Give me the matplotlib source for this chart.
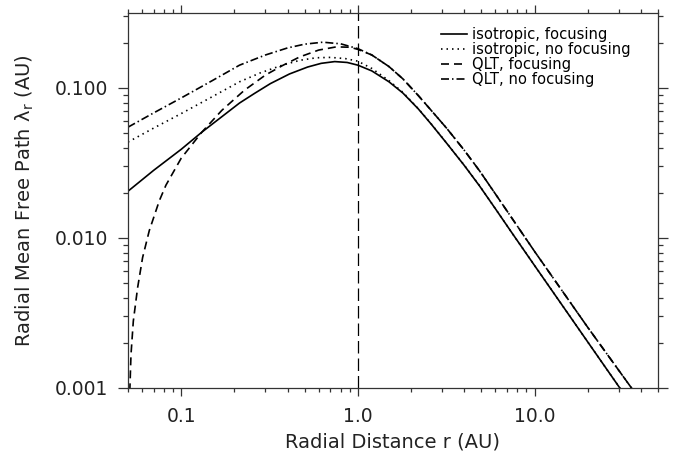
import matplotlib
matplotlib.use("Agg")
import matplotlib.pyplot as plt
from matplotlib.ticker import FixedLocator, FixedFormatter, LogLocator, NullFormatter

plt.rcParams['font.family'] = ['DejaVu Sans']

# isotropic, focusing
r_iso_f = [0.05, 0.07, 0.1, 0.131, 0.17, 0.214, 0.26, 0.32, 0.41, 0.52, 0.62, 0.74, 0.87,
           1.0, 1.2, 1.5, 1.8, 2.2, 2.6, 3.2, 4.0, 4.89, 6.0, 7.5, 10.0, 20.0, 30.4, 40.0]
lam_iso_f = [0.0205, 0.0283, 0.039, 0.0508, 0.0644, 0.0794, 0.092, 0.107, 0.124, 0.138, 0.146, 0.150, 0.148,
             0.142, 0.130, 0.110, 0.0925, 0.0725, 0.0575, 0.0425, 0.0305, 0.0222, 0.0157, 0.0107, 0.00656,
             0.00203, 0.00100, 0.00062]

# isotropic, no focusing
r_iso_nf = [0.05, 0.07, 0.1, 0.15, 0.214, 0.28, 0.374, 0.47, 0.58, 0.7, 0.85, 1.0, 1.2, 1.5,
            1.8, 2.2, 2.6, 3.2, 4.0, 4.89, 6.0, 7.5, 10.0, 20.0, 30.4, 40.0]
lam_iso_nf = [0.0436, 0.0541, 0.0675, 0.0875, 0.110, 0.126, 0.142, 0.153, 0.159, 0.160, 0.157, 0.151, 0.135, 0.112,
              0.0935, 0.0728, 0.0577, 0.0426, 0.0306, 0.0223, 0.0157, 0.0107, 0.00657, 0.00203, 0.00100, 0.00062]

# QLT, focusing
r_qlt_f = [0.0512, 0.052, 0.0536, 0.0567, 0.0605, 0.066, 0.0752, 0.082, 0.1, 0.131, 0.17, 0.228, 0.3, 0.374,
           0.468, 0.6, 0.755, 0.9, 1.0, 1.2, 1.5, 1.8, 2.2, 2.6, 3.2, 4.0, 4.89, 6.0, 7.5, 10.0, 20.0, 35.4, 45.0]
lam_qlt_f = [0.00095, 0.00167, 0.00279, 0.00467, 0.00741, 0.0112, 0.0177, 0.0225, 0.034, 0.0508, 0.071, 0.0966, 0.122,
             0.141, 0.161, 0.179, 0.188, 0.187, 0.181, 0.166, 0.139, 0.115, 0.089, 0.0710, 0.0535, 0.0385, 0.0280,
             0.0197, 0.0134, 0.00815, 0.00254, 0.00100, 0.00067]

# QLT, no focusing
r_qlt_nf = [0.05, 0.07, 0.1, 0.15, 0.214, 0.3, 0.4, 0.5, 0.634, 0.8, 1.0, 1.2, 1.5, 1.8,
            2.2, 2.6, 3.2, 4.0, 4.89, 6.0, 7.5, 10.0, 20.0, 35.4, 45.0]
lam_qlt_nf = [0.0548, 0.0683, 0.0858, 0.112, 0.142, 0.166, 0.185, 0.196, 0.202, 0.197, 0.183, 0.166, 0.139, 0.115,
              0.089, 0.0710, 0.0535, 0.0385, 0.0280, 0.0197, 0.0134, 0.00815, 0.00254, 0.00100, 0.00067]

labels = ["isotropic, focusing", "isotropic, no focusing", "QLT, focusing", "QLT, no focusing"]

x_ticks = [0.1, 1.0, 10.0]
x_tick_labels = ["0.1", "1.0", "10.0"]
y_ticks = [0.001, 0.01, 0.1]
y_tick_labels = ["0.001", "0.010", "0.100"]

fig = plt.figure(figsize=(6.75, 4.53), dpi=100)
ax = fig.add_axes([0.1896, 0.1435, 0.7852, 0.8278])

ax.plot(r_iso_f, lam_iso_f, color="black", lw=1.2, label=labels[0])
ax.plot(r_iso_nf, lam_iso_nf, color="black", lw=1.2, dashes=(0.9, 2.4), label=labels[1])
ax.plot(r_qlt_f, lam_qlt_f, color="black", lw=1.2, dashes=(4.8, 3.0), label=labels[2])
ax.plot(r_qlt_nf, lam_qlt_nf, color="black", lw=1.2, dashes=(4.8, 1.8, 0.9, 1.8), label=labels[3])

# 1 AU marker
ax.axvline(1.0, color="black", lw=0.9, dashes=(10, 4))

ax.set_xscale("log")
ax.set_yscale("log")
ax.set_xlim(0.05, 50)
ax.set_ylim(0.001, 10 ** -0.5)

ax.xaxis.set_major_locator(FixedLocator(x_ticks))
ax.xaxis.set_major_formatter(FixedFormatter(x_tick_labels))
ax.yaxis.set_major_locator(FixedLocator(y_ticks))
ax.yaxis.set_major_formatter(FixedFormatter(y_tick_labels))
ax.xaxis.set_minor_locator(LogLocator(base=10, subs=range(2, 10), numticks=20))
ax.yaxis.set_minor_locator(LogLocator(base=10, subs=range(2, 10), numticks=20))
ax.xaxis.set_minor_formatter(NullFormatter())
ax.yaxis.set_minor_formatter(NullFormatter())

ax.tick_params(which="both", direction="out", top=True, right=True, color="#333333", width=0.9)
ax.tick_params(axis="x", which="major", length=5.5, pad=8, labelsize=13.5, labelcolor="#222222")
ax.tick_params(axis="x", which="minor", length=3)
ax.tick_params(axis="y", which="major", length=7, pad=7, labelsize=13.5, labelcolor="#222222")
ax.tick_params(axis="y", which="minor", length=3.5)

for s in ax.spines.values():
    s.set_color("#333333")
    s.set_linewidth(0.9)

ax.set_xlabel("Radial Distance r (AU)", fontsize=14, color="#222222", labelpad=5)
ax.set_ylabel("Radial Mean Free Path λ$_\\mathregular{r}$ (AU)", fontsize=14, color="#222222", labelpad=14)

ax.legend(
    loc="upper left",
    bbox_to_anchor=(0.59, 0.962),
    frameon=False,
    fontsize=10.6,
    handlelength=1.8,
    handletextpad=0.3,
    labelspacing=0.0,
    borderpad=0,
    borderaxespad=0
)

plt.savefig("out.png", dpi=100)
plt.close()
